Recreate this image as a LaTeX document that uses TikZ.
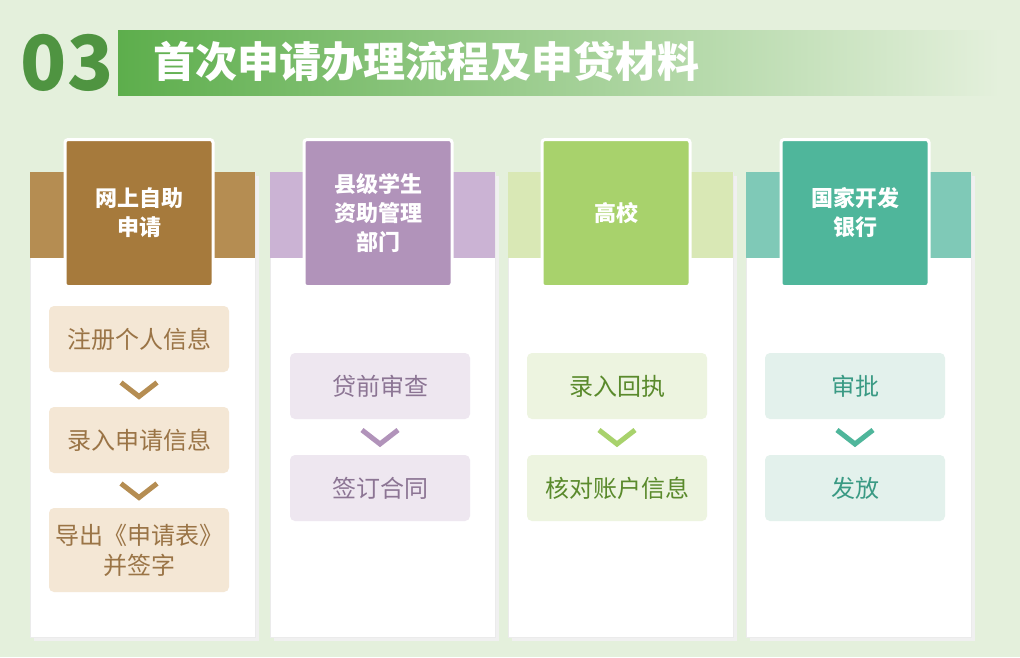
\documentclass[tikz,border=0pt]{standalone}
\usepackage{fontspec}
\newfontfamily\cjk{Noto Sans CJK SC}
\usetikzlibrary{positioning,calc}
\definecolor{bgc}{HTML}{E4F0DC}
\definecolor{hgreen}{HTML}{5DAE4C}
\definecolor{bandA}{HTML}{B58D52}\definecolor{headA}{HTML}{A67A3C}\definecolor{boxA}{HTML}{F4E7D5}\definecolor{txtA}{HTML}{9A7446}
\definecolor{bandB}{HTML}{CBB3D4}\definecolor{headB}{HTML}{B193BA}\definecolor{boxB}{HTML}{EEE7F0}\definecolor{txtB}{HTML}{8C7594}
\definecolor{bandC}{HTML}{D9E8B5}\definecolor{headC}{HTML}{A8D26C}\definecolor{boxC}{HTML}{EDF4E0}\definecolor{txtC}{HTML}{5A8A2C}
\definecolor{bandD}{HTML}{7FC9B7}\definecolor{headD}{HTML}{4FB69B}\definecolor{boxD}{HTML}{E3F1EC}\definecolor{txtD}{HTML}{3A9A84}
\tikzset{
    panel/.style={fill=white, draw=black!8},
    headbox/.style={draw=white, line width=3pt, rounded corners=3pt, minimum width=148pt, minimum height=147pt,
                    text=white, font=\cjk\fontsize{22}{29}\selectfont\bfseries, align=center},
    stepbox/.style={rounded corners=5pt, minimum width=180pt, minimum height=66pt,
                    font=\cjk\fontsize{24}{30}\selectfont, align=center},
    chev/.style={line width=5pt}
}
\begin{document}
\begin{tikzpicture}[x=1pt, y=-1pt]
\fill[bgc] (0,0) rectangle (1020,657);
\useasboundingbox (0,0) rectangle (1020,657);
% header
\shade[left color=hgreen, right color=bgc] (118,30) rectangle (1000,95);
\node[text=hgreen!85!black, font=\cjk\fontsize{76}{76}\selectfont\bfseries] (num) at (67,63) {03};
\node[anchor=west, text=white, font=\cjk\fontsize{42}{46}\selectfont\bfseries] (title) at (150,62) {首次申请办理流程及申贷材料};
% columns
\foreach \x/\c in {30/A, 270/B, 508/C, 746/D}{
  \fill[black!6] (\x+4,176) rectangle (\x+229,641);
  \draw[panel] (\x,172) rectangle (\x+225,637);
  \fill[band\c] (\x,172) rectangle (\x+225,258);
}
\node[headbox, fill=headA] (hA) at (139,213) {网上自助\\申请};
\node[headbox, fill=headB] (hB) at (378,213) {县级学生\\资助管理\\部门};
\node[headbox, fill=headC] (hC) at (616,213) {高校};
\node[headbox, fill=headD] (hD) at (855,213) {国家开发\\银行};
% steps
\node[stepbox, fill=boxA, text=txtA] (a1) at (139,339) {注册个人信息};
\node[stepbox, fill=boxA, text=txtA] (a2) at (139,440) {录入申请信息};
\node[stepbox, fill=boxA, text=txtA, minimum height=84pt] (a3) at (139,550) {导出《申请表》\\并签字};
\node[stepbox, fill=boxB, text=txtB] (b1) at (380,386) {贷前审查};
\node[stepbox, fill=boxB, text=txtB] (b2) at (380,488) {签订合同};
\node[stepbox, fill=boxC, text=txtC] (c1) at (617,386) {录入回执};
\node[stepbox, fill=boxC, text=txtC] (c2) at (617,488) {核对账户信息};
\node[stepbox, fill=boxD, text=txtD] (d1) at (855,386) {审批};
\node[stepbox, fill=boxD, text=txtD] (d2) at (855,488) {发放};
% chevrons
\foreach \a/\b/\c in {a1/a2/bandA, a2/a3/bandA, b1/b2/headB, c1/c2/headC, d1/d2/headD}{
  \coordinate (m) at ($(\a.south)!0.5!(\b.north)$);
  \draw[chev, \c] ([xshift=-18pt, yshift=7pt]m) -- ([yshift=-7pt]m) -- ([xshift=18pt, yshift=7pt]m);
}
\end{tikzpicture}
\end{document}
